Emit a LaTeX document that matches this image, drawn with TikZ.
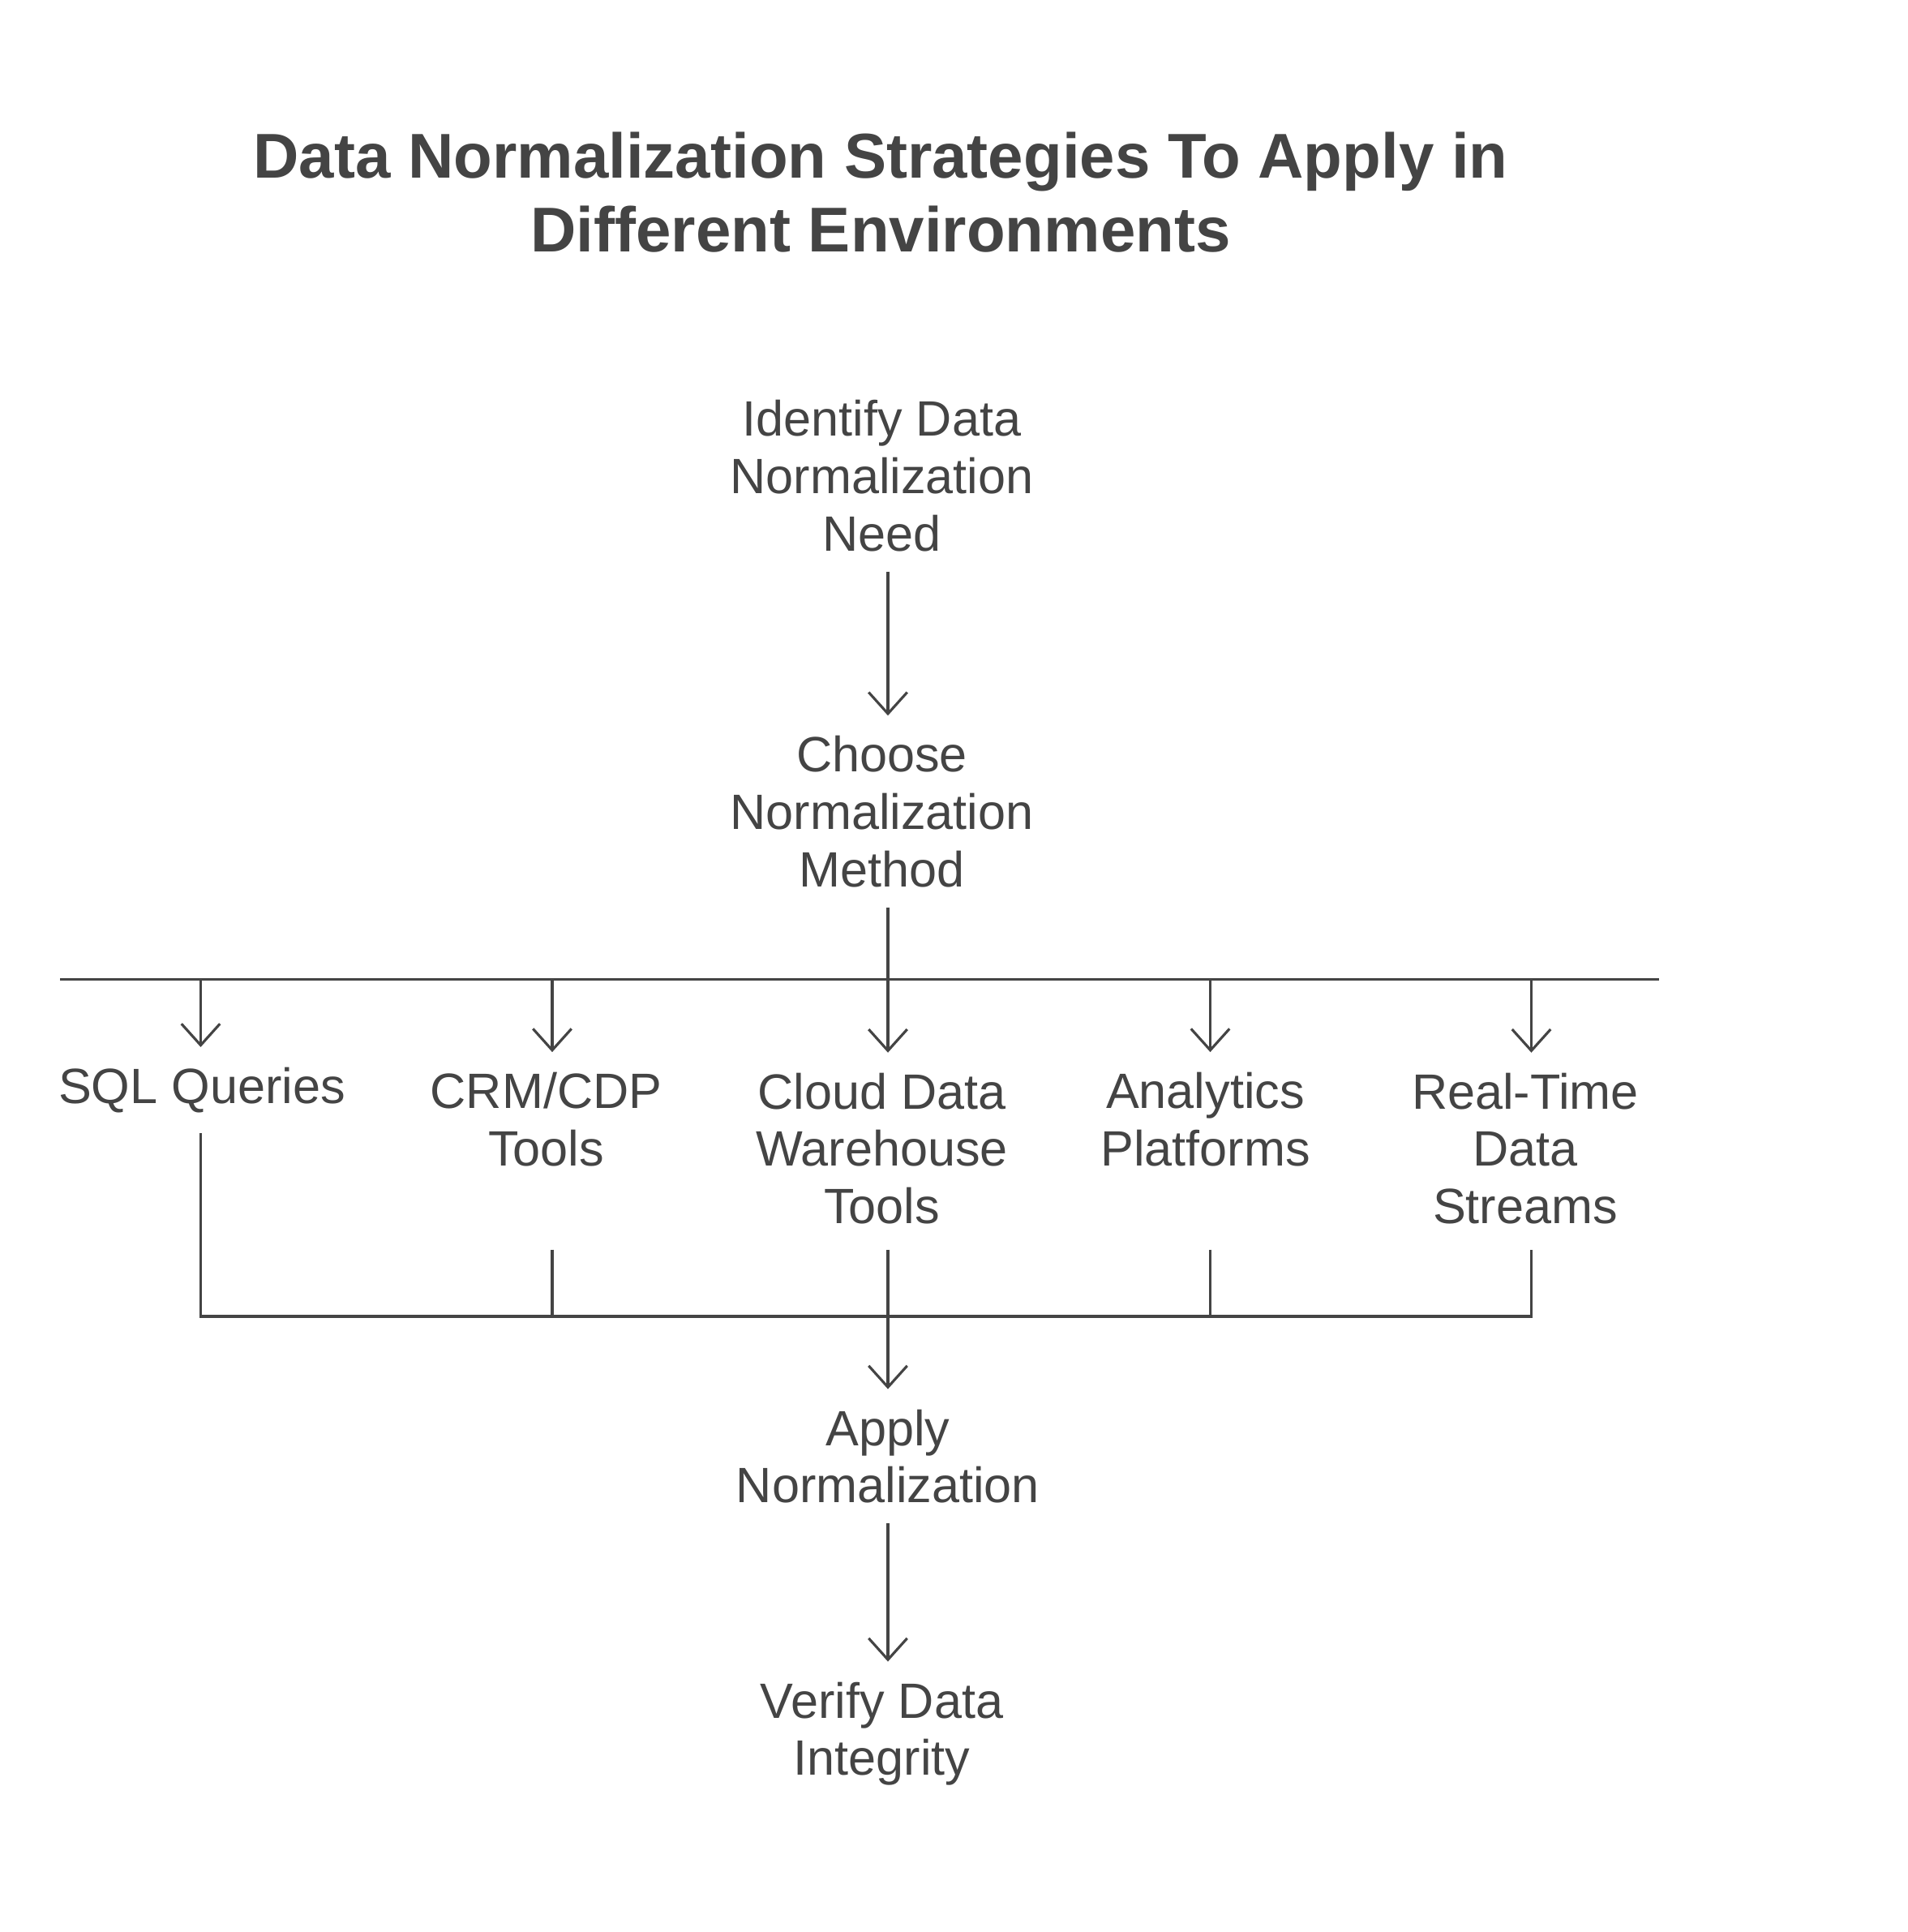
\documentclass[tikz,border=0pt]{standalone}
\usepackage{fontspec}
\setmainfont{Liberation Sans}
\usetikzlibrary{arrows.meta}
\definecolor{ink}{HTML}{444444}
\begin{document}
\begin{tikzpicture}[x=0.01cm,y=-0.01cm,
  stage/.style={draw=none, text=ink, align=center, font=\fontsize{11.6}{13.4}\selectfont, inner sep=0.16cm},
  link/.style={draw=ink, line width=0.6pt},
  flow/.style={link, -{Straight Barb[length=5pt,width=9pt]}}]

\useasboundingbox (0,0) rectangle (1568,1588);

\node[text=ink, align=center, font=\fontsize{14.8}{17.2}\selectfont\bfseries] (title) at (724,158)
  {Data Normalization Strategies To Apply in\\Different Environments};

\node[stage] (ident) at (725,391) {Identify Data\\Normalization\\Need};
\node[stage] (choose) at (725,667) {Choose\\Normalization\\Method};

\node[stage] (sql) at (166,896) {SQL Queries};
\node[stage] (crm) at (449,920) {CRM/CDP\\Tools};
\node[stage] (cloud) at (725,944) {Cloud Data\\Warehouse\\Tools};
\node[stage] (anly) at (991,920) {Analytics\\Platforms};
\node[stage] (rt) at (1254,944) {Real-Time\\Data\\Streams};

\node[stage] (apply) at (730,1197) {Apply\\Normalization};
\node[stage] (verify) at (725,1425) {Verify Data\\Integrity};

\coordinate (split) at (730,805);
\coordinate (join) at (730,1082);
\coordinate (low) at (0,1027);

% top part
\draw[flow] (ident.south -| split) -- (choose.north -| split);
\draw[link] (choose.south -| split) -- (split);
\draw[link] (split -| sql.west) ++(18,0) -- (split -| rt.east) ++(0,0);
\draw[link] (165,805) -- (1259,805);
\foreach \n/\x in {sql/165,crm/454,cloud/730,anly/995,rt/1259} {
  \draw[flow] (\x,805) -- (\x,0 |- \n.north);
}

% bottom part
\draw[link] (sql.south -| 165,0) -- (165,1082) -- (1259,1082) -- (low -| 1259,0);
\foreach \x in {454,730,995} {
  \draw[link] (low -| \x,0) -- (\x,1082);
}
\draw[flow] (join) -- (join |- apply.north);
\draw[flow] (apply.south -| join) -- (verify.north -| join);

\end{tikzpicture}
\end{document}
